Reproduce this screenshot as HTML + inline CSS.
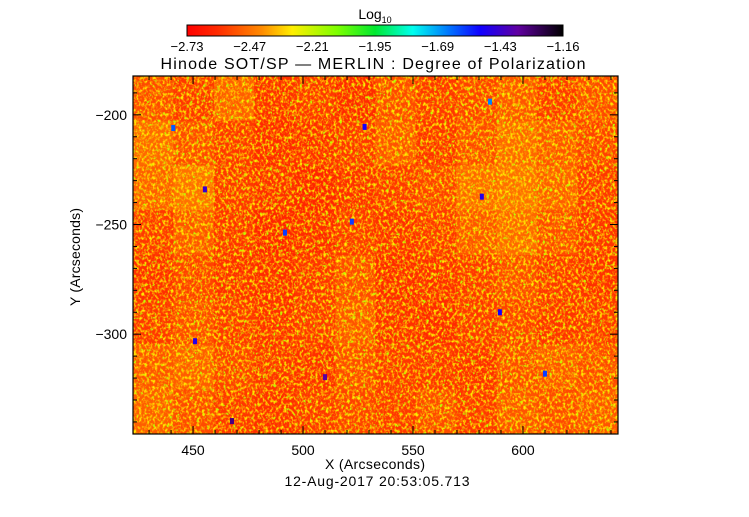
<!DOCTYPE html>
<html><head><meta charset="utf-8"><style>
body{margin:0;background:#fff;}
svg text{font-family:"Liberation Sans",sans-serif;fill:#000;}
</style></head><body>
<svg id="chart" width="749" height="512" viewBox="0 0 749 512">
<defs>
<linearGradient id="cbar" x1="0" x2="1" y1="0" y2="0">
<stop offset="0" stop-color="#ff0000"/><stop offset="0.08" stop-color="#ff2a00"/><stop offset="0.2" stop-color="#ff8c00"/><stop offset="0.28" stop-color="#ffee00"/><stop offset="0.4" stop-color="#7cff00"/><stop offset="0.5" stop-color="#00e830"/><stop offset="0.6" stop-color="#00ffee"/><stop offset="0.7" stop-color="#0070ff"/><stop offset="0.78" stop-color="#1000ff"/><stop offset="0.88" stop-color="#6000a0"/><stop offset="1" stop-color="#000000"/>
</linearGradient>
<filter id="tex" x="0" y="0" width="100%" height="100%">
<feTurbulence type="fractalNoise" baseFrequency="0.38 0.3" numOctaves="2" seed="7"/>
<feColorMatrix type="matrix" values="0 0 0 0 1  0 0 0 0 0.85  0 0 0 0 0  3.2 0 0 0 -1.45"/>
</filter>
<filter id="tex2" x="0" y="0" width="100%" height="100%">
<feTurbulence type="fractalNoise" baseFrequency="0.3 0.25" numOctaves="2" seed="21"/>
<feColorMatrix type="matrix" values="0 0 0 0 0.5  0 0 0 0 1  0 0 0 0 0  0 6 0 0 -3.9"/>
</filter>
<clipPath id="pclip"><rect x="133" y="76" width="485" height="358"/></clipPath>
</defs>
<text x="375" y="19" text-anchor="middle" font-size="14">Log<tspan font-size="9" dy="4">10</tspan></text>
<rect x="187" y="25" width="376" height="11" fill="url(#cbar)" stroke="#000" stroke-width="1"/>
<g id="cbticks" font-size="13" text-anchor="middle"></g>
<text x="373" y="69" text-anchor="middle" font-size="16" textLength="425" lengthAdjust="spacing">Hinode SOT/SP — MERLIN : Degree of Polarization</text>
<g id="heat" clip-path="url(#pclip)"></g>
<rect x="133" y="76" width="485" height="358" filter="url(#tex)" clip-path="url(#pclip)"/>
<rect x="133" y="76" width="485" height="358" filter="url(#tex2)" clip-path="url(#pclip)"/>
<g id="spots" clip-path="url(#pclip)"></g>
<rect x="133" y="76" width="485" height="358" fill="none" stroke="#000" stroke-width="1.2"/>
<g id="axes" font-size="14"></g>
<text x="375" y="469" text-anchor="middle" font-size="14" textLength="100" lengthAdjust="spacing">X (Arcseconds)</text>
<text transform="translate(80,257) rotate(-90)" text-anchor="middle" font-size="14" textLength="98" lengthAdjust="spacing">Y (Arcseconds)</text>
<text x="377" y="486" text-anchor="middle" font-size="14" textLength="185" lengthAdjust="spacing">12-Aug-2017 20:53:05.713</text>
</svg>
<script>
const cbLabels=["-2.73","-2.47","-2.21","-1.95","-1.69","-1.43","-1.16"];
const xTicks=[450,500,550,600];
const yTicks=[-200,-250,-300];
const xRange=[422.7,643.2];
const yRange=[-182.3,-345.5];
// coarse grid of mean log10 polarization (rows top->bottom)
const gridVals=[
[-2.58,-2.60,-2.56,-2.62,-2.60,-2.63,-2.58,-2.60,-2.59,-2.57,-2.60,-2.58],
[-2.55,-2.58,-2.60,-2.63,-2.62,-2.60,-2.57,-2.61,-2.58,-2.55,-2.57,-2.59],
[-2.56,-2.54,-2.60,-2.62,-2.64,-2.62,-2.60,-2.59,-2.55,-2.54,-2.56,-2.60],
[-2.60,-2.57,-2.61,-2.64,-2.63,-2.60,-2.62,-2.60,-2.57,-2.55,-2.58,-2.61],
[-2.62,-2.59,-2.62,-2.63,-2.61,-2.58,-2.63,-2.62,-2.60,-2.58,-2.60,-2.62],
[-2.60,-2.58,-2.60,-2.62,-2.60,-2.57,-2.62,-2.63,-2.60,-2.59,-2.61,-2.60],
[-2.57,-2.56,-2.59,-2.61,-2.62,-2.58,-2.60,-2.61,-2.62,-2.58,-2.57,-2.58],
[-2.56,-2.58,-2.60,-2.62,-2.60,-2.59,-2.60,-2.58,-2.60,-2.57,-2.58,-2.57]
];
const spotX=[455.4,528,581.3,510,467.7,450.9,589.5,491.8,522.2,441,585,610];
const spotY=[-234,-205.5,-237.3,-319.6,-339.6,-303.2,-290,-253.7,-248.7,-206,-194,-318];
const spotV=[-1.5,-1.6,-1.55,-1.4,-1.35,-1.55,-1.6,-1.7,-1.7,-1.75,-1.8,-1.7];

const L=133,R=618,T=76,B=434;
const xs=v=>L+(v-xRange[0])/(xRange[1]-xRange[0])*(R-L);
const ys=v=>T+(v-yRange[0])/(yRange[1]-yRange[0])*(B-T);
const stops=[[-2.73,[255,0,0]],[-2.60,[255,55,0]],[-2.50,[255,150,0]],[-2.42,[255,235,0]],[-2.25,[120,255,0]],[-2.1,[0,230,50]],[-1.95,[0,255,235]],[-1.78,[0,110,255]],[-1.6,[20,0,255]],[-1.4,[90,0,160]],[-1.16,[0,0,0]]];
function cmap(v){
  if(v<=stops[0][0])return 'rgb(255,0,0)';
  for(let i=1;i<stops.length;i++){if(v<=stops[i][0]){const a=stops[i-1],b=stops[i];const t=(v-a[0])/(b[0]-a[0]);const c=a[1].map((x,k)=>Math.round(x+(b[1][k]-x)*t));return `rgb(${c})`;}}
  return 'rgb(0,0,0)';
}
const NS='http://www.w3.org/2000/svg';
function mk(tag,attrs,parent){const e=document.createElementNS(NS,tag);for(const k in attrs)e.setAttribute(k,attrs[k]);parent.appendChild(e);return e;}
const heat=document.getElementById('heat');
const nr=gridVals.length,nc=gridVals[0].length;
const cw=(xRange[1]-xRange[0])/nc,ch=(yRange[0]-yRange[1])/nr;
gridVals.forEach((row,r)=>row.forEach((v,c)=>{
  const x0=xs(xRange[0]+c*cw),x1=xs(xRange[0]+(c+1)*cw),y0=ys(yRange[0]-r*ch),y1=ys(yRange[0]-(r+1)*ch);
  const e=mk('rect',{x:x0,y:y0,width:x1-x0+0.5,height:y1-y0+0.5,fill:cmap(v)},heat);
  
  
}));
const spots=document.getElementById('spots');
spotX.forEach((sx,i)=>{
  const e=mk('rect',{x:xs(sx)-2,y:ys(spotY[i])-3,width:4,height:6,fill:cmap(spotV[i])},spots);
  
  
});
const cbt=document.getElementById('cbticks');
cbLabels.forEach((s,i)=>{
  const x=187+i*(376/(cbLabels.length-1));
  const t=mk('text',{x:x,y:51},cbt);t.textContent=s.replace('-','\u2212');
  
  
});
const ax=document.getElementById('axes');
for(let v=430;v<=640;v+=10){const x=xs(v);const len=v%50===0?8:4;
  mk('line',{x1:x,x2:x,y1:B,y2:B-len,stroke:'#000'},ax);mk('line',{x1:x,x2:x,y1:T,y2:T+len,stroke:'#000'},ax);}
for(let v=-190;v>=-340;v-=10){const y=ys(v);const len=v%50===0?8:4;
  mk('line',{x1:L,x2:L+len,y1:y,y2:y,stroke:'#000'},ax);mk('line',{x1:R,x2:R-len,y1:y,y2:y,stroke:'#000'},ax);}
xTicks.forEach(v=>{const t=mk('text',{x:xs(v),y:455,'text-anchor':'middle'},ax);t.textContent=v;
  
  });
yTicks.forEach(v=>{const t=mk('text',{x:127,y:ys(v)+5,'text-anchor':'end'},ax);t.textContent=String(v).replace('-','\u2212');
  
  });
</script>
</body></html>
